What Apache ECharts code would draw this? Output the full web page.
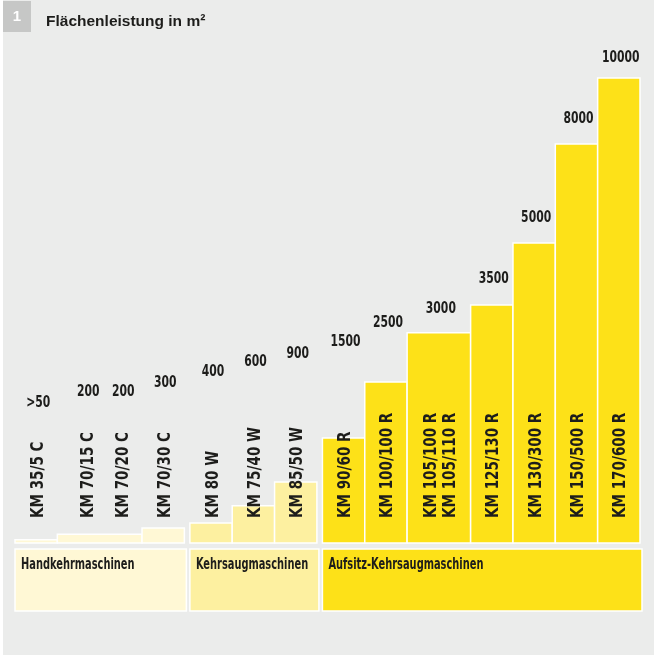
<!DOCTYPE html>
<html><head><meta charset="utf-8">
<script src="https://cdn.jsdelivr.net/npm/echarts@6/dist/echarts.min.js"></script>
<style>html,body{margin:0;padding:0;background:#fff}#c{width:661px;height:656px}</style>
</head><body><div id="c"></div>
<script>
// ---- data ----
const chartTitle = 'Flächenleistung in m²';
const badge = '1';
const groups = ['Handkehrmaschinen', 'Kehrsaugmaschinen', 'Aufsitz-Kehrsaugmaschinen'];
// bars (13): group, width in model slots, visual height (% of tallest bar)
const barGroup  = [0, 0, 0, 1, 1, 1, 2, 2, 2, 2, 2, 2, 2];
const barSlots  = [1, 2, 1, 1, 1, 1, 1, 1, 1.5, 1, 1, 1, 1];
const barHeight = [0.7, 1.9, 3.2, 4.3, 8.0, 13.1, 22.6, 34.6, 45.2, 51.2, 64.5, 85.8, 100];
// models (labels) sitting on bars
const models = ['KM 35/5 C', 'KM 70/15 C', 'KM 70/20 C', 'KM 70/30 C', 'KM 80 W', 'KM 75/40 W', 'KM 85/50 W',
  'KM 90/60 R', 'KM 100/100 R', 'KM 105/100 R\nKM 105/110 R', 'KM 125/130 R', 'KM 130/300 R', 'KM 150/500 R', 'KM 170/600 R'];
const modelBar = [0, 1, 1, 2, 3, 4, 5, 6, 7, 8, 9, 10, 11, 12];
const valueLabels = ['>50', '200', '200', '300', '400', '600', '900', '1500', '2500', '3000', '3500', '5000', '8000', '10000'];
const labelLevel = [30.1, 32.5, 32.5, 34.4, 36.8, 38.9, 40.6, 43.2, 47.3, 50.3, 56.8, 69.9, 91.2, 104.3];

// ---- styles ----
const groupColors = ['#fff8d5', '#fdf0a0', '#fde118'];
const TXT = '#1d1d1b';
const FONT = '"Liberation Sans", Arial, sans-serif';
const COND = '"DejaVu Sans Condensed", "DejaVu Sans", sans-serif';
const GAP = 0.13;

// ---- layout from data ----
let x = 0; const barStart = [], barEnd = [];
const groupRange = groups.map(() => [Infinity, -Infinity]);
barSlots.forEach((w, i) => {
  if (i > 0 && barGroup[i] !== barGroup[i - 1]) x += GAP;
  barStart.push(x); x += w; barEnd.push(x);
  const g = groupRange[barGroup[i]];
  g[0] = Math.min(g[0], barStart[i]); g[1] = Math.max(g[1], x);
});
const total = x;
const modelK = [], modelN = [];
models.forEach((m, i) => {
  const b = modelBar[i];
  modelK.push(modelBar.slice(0, i).filter(v => v === b).length);
  modelN.push(modelBar.filter(v => v === b).length);
});

const chart = echarts.init(document.getElementById('c'), null, {renderer: 'canvas'});
chart.setOption({
  animation: false,
  backgroundColor: '#ffffff',
  graphic: [
    {type: 'rect', shape: {x: 3, y: 0, width: 651, height: 655}, style: {fill: '#ebeceb'}, silent: true},
    {type: 'rect', shape: {x: 3, y: 1, width: 28, height: 31}, style: {fill: '#c6c7c6'}, silent: true},
    {type: 'text', x: 17, y: 17, style: {text: badge, fill: '#fff', font: 'bold 15px ' + FONT, align: 'center', verticalAlign: 'middle'}},
    {type: 'text', x: 46, y: 22, style: {text: chartTitle, fill: TXT, font: 'bold 15.5px ' + FONT, align: 'left', verticalAlign: 'middle'}}
  ],
  grid: {left: 15, right: 21, top: 78, bottom: 113},
  xAxis: {type: 'value', min: 0, max: total, show: false},
  yAxis: {type: 'value', min: 0, max: 100, show: false},
  series: [
    {
      type: 'custom', silent: true, clip: false,
      data: barSlots.map((w, i) => [barStart[i], barEnd[i], barHeight[i], barGroup[i]]),
      encode: {x: [0, 1], y: 2},
      renderItem(params, api) {
        const p0 = api.coord([api.value(0), 0]);
        const p1 = api.coord([api.value(1), api.value(2)]);
        return {type: 'rect', shape: {x: p0[0], y: p1[1], width: p1[0] - p0[0], height: p0[1] - p1[1]},
          style: {fill: groupColors[api.value(3)], stroke: '#ffffff', lineWidth: 1.5}};
      }
    },
    {
      type: 'custom', silent: true, clip: false,
      data: groups.map((g, i) => [groupRange[i][0], groupRange[i][1], i]),
      encode: {x: [0, 1]},
      renderItem(params, api) {
        const p0 = api.coord([api.value(0), 0]);
        const p1 = api.coord([api.value(1), 0]);
        const gi = api.value(2);
        return {type: 'group', children: [
          {type: 'rect', shape: {x: p0[0], y: p0[1] + 6, width: p1[0] - p0[0] + 2, height: 62},
            style: {fill: groupColors[gi], stroke: '#ffffff', lineWidth: 1.5}},
          {type: 'text', x: p0[0] + 6, y: p0[1] + 22, scaleX: 0.73,
            style: {text: groups[gi], fill: TXT, font: 'bold 15px ' + COND, align: 'left', verticalAlign: 'middle'}}
        ]};
      }
    },
    {
      type: 'custom', silent: true, clip: false,
      data: models.map((m, i) => [(barStart[modelBar[i]] + barEnd[modelBar[i]]) / 2, labelLevel[i], modelK[i], modelN[i]]),
      encode: {x: 0, y: 1},
      renderItem(params, api) {
        const i = params.dataIndex;
        const base = api.coord([api.value(0), 0]);
        const n = api.value(3);
        const cx = base[0] + (api.value(2) - (n - 1) / 2) * 35 + 2 + (n > 1 ? 4 : 0);
        const ly = api.coord([api.value(0), api.value(1)])[1];
        return {type: 'group', children: [
          {type: 'text', x: cx, y: base[1] - 25, rotation: Math.PI / 2, scaleX: 0.86,
            style: {text: models[i], fill: TXT, font: 'bold 17.5px ' + COND, align: 'left', verticalAlign: 'middle', lineHeight: 19}},
          {type: 'text', x: cx, y: ly, scaleX: 0.8,
            style: {text: valueLabels[i], fill: TXT, font: 'bold 15px ' + COND, align: 'center', verticalAlign: 'middle'}}
        ]};
      }
    }
  ]
});
</script></body></html>
